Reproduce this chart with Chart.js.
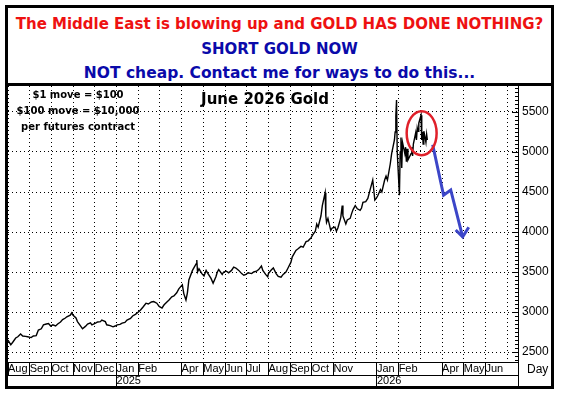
<!DOCTYPE html>
<html>
<head>
<meta charset="utf-8">
<script src="https://cdn.jsdelivr.net/npm/chart.js@4.4.1/dist/chart.umd.min.js"></script>
<style>
  body { margin: 0; background: #fff; }
  #frame { position: absolute; left: 5px; top: 5px; width: 543px; height: 378px; border: 3px solid #000; }
  #head { position: relative; height: 75px; border-bottom: 3px solid #000; font-family: "DejaVu Sans", Verdana, sans-serif; font-weight: bold; }
  #head div { position: absolute; left: 0; width: 100%; text-align: center; line-height: 20px; white-space: nowrap; }
  #wrap { position: relative; width: 543px; height: 300px; }
</style>
</head>
<body>
<div id="frame">
  <div id="head">
    <div style="top:6px; color:#ee1111; font-size:15px;">The Middle East is blowing up and GOLD HAS DONE NOTHING?</div>
    <div style="top:31px; color:#0a0aaa; font-size:15px;">SHORT GOLD NOW</div>
    <div style="top:55px; color:#0a0aaa; font-size:15.5px;">NOT cheap. Contact me for ways to do this...</div>
  </div>
  <div id="wrap"><canvas id="goldChart"></canvas></div>
</div>
<script>
// June 2026 gold futures
var dates = [
  '2024-08-01','2024-08-05','2024-08-08','2024-08-12','2024-08-15','2024-08-19','2024-08-22','2024-08-26','2024-08-29',
  '2024-09-03','2024-09-06','2024-09-10','2024-09-13','2024-09-17','2024-09-20','2024-09-24','2024-09-27','2024-09-30',
  '2024-10-03','2024-10-07','2024-10-10','2024-10-14','2024-10-17','2024-10-21','2024-10-23','2024-10-28','2024-10-30',
  '2024-11-01','2024-11-05','2024-11-07','2024-11-11','2024-11-14','2024-11-18','2024-11-21','2024-11-25','2024-11-27',
  '2024-12-02','2024-12-05','2024-12-09','2024-12-11','2024-12-16','2024-12-18','2024-12-23','2024-12-27','2024-12-30',
  '2025-01-02','2025-01-06','2025-01-09','2025-01-13','2025-01-16','2025-01-21','2025-01-24','2025-01-28','2025-01-31',
  '2025-02-04','2025-02-07','2025-02-11','2025-02-14','2025-02-18','2025-02-21','2025-02-25','2025-02-28',
  '2025-03-04','2025-03-07','2025-03-11','2025-03-14','2025-03-18','2025-03-21','2025-03-25','2025-03-28','2025-03-31',
  '2025-04-02','2025-04-04','2025-04-07','2025-04-09','2025-04-11','2025-04-16','2025-04-21','2025-04-22','2025-04-23','2025-04-25','2025-04-29',
  '2025-05-02','2025-05-05','2025-05-07','2025-05-12','2025-05-15','2025-05-19','2025-05-21','2025-05-23','2025-05-28','2025-05-30',
  '2025-06-03','2025-06-06','2025-06-10','2025-06-13','2025-06-16','2025-06-20','2025-06-24','2025-06-27','2025-06-30',
  '2025-07-03','2025-07-08','2025-07-11','2025-07-15','2025-07-18','2025-07-22','2025-07-24','2025-07-28','2025-07-31',
  '2025-08-01','2025-08-05','2025-08-08','2025-08-12','2025-08-15','2025-08-19','2025-08-22','2025-08-26','2025-08-29',
  '2025-09-02','2025-09-04','2025-09-09','2025-09-12','2025-09-16','2025-09-19','2025-09-23','2025-09-26','2025-09-30',
  '2025-10-02','2025-10-06','2025-10-08','2025-10-10','2025-10-14','2025-10-16','2025-10-20','2025-10-21','2025-10-22','2025-10-24','2025-10-28','2025-10-30',
  '2025-11-03','2025-11-05','2025-11-07','2025-11-11','2025-11-13','2025-11-14','2025-11-18','2025-11-20','2025-11-24','2025-11-26','2025-11-28',
  '2025-12-01','2025-12-04','2025-12-08','2025-12-10','2025-12-12','2025-12-16','2025-12-19','2025-12-22','2025-12-26','2025-12-29','2025-12-31',
  '2026-01-02','2026-01-06','2026-01-08','2026-01-12','2026-01-14','2026-01-16','2026-01-20','2026-01-22','2026-01-26','2026-01-27','2026-01-28','2026-01-29','2026-01-30',
  '2026-02-02','2026-02-03','2026-02-04','2026-02-05','2026-02-06','2026-02-09','2026-02-10','2026-02-11','2026-02-12','2026-02-13',
  '2026-02-17','2026-02-18','2026-02-19','2026-02-20','2026-02-23','2026-02-24','2026-02-25','2026-02-26','2026-02-27',
  '2026-03-02','2026-03-03','2026-03-04','2026-03-05','2026-03-06','2026-03-09','2026-03-10','2026-03-11'
];
var prices = [
  2650,2590,2625,2675,2690,2725,2700,2695,2690,
  2680,2700,2705,2775,2790,2840,2850,2855,2825,
  2840,2825,2850,2875,2905,2925,2940,2960,2990,
  2960,2925,2880,2830,2790,2820,2850,2865,2840,
  2860,2875,2880,2900,2880,2840,2830,2815,2825,
  2840,2845,2860,2870,2900,2920,2950,2970,2990,
  3025,3060,3110,3100,3125,3130,3110,3070,
  3050,3090,3125,3150,3190,3200,3240,3290,3320,
  3340,3230,3150,3240,3400,3520,3600,3650,3500,3540,3480,
  3450,3520,3490,3420,3360,3440,3500,3530,3470,3500,
  3510,3490,3520,3560,3550,3520,3480,3460,3470,
  3490,3480,3500,3510,3530,3575,3520,3470,3440,
  3480,3525,3550,3480,3445,3435,3470,3500,3550,
  3620,3690,3770,3790,3820,3810,3880,3890,3930,
  3960,4010,4100,4060,4200,4330,4490,4200,4120,4170,4020,4050,
  4060,4010,4050,4180,4330,4200,4100,4150,4170,4230,4280,
  4330,4290,4270,4300,4370,4380,4420,4520,4650,4400,4420,
  4450,4530,4500,4650,4700,4650,4850,4980,5150,5250,5450,5650,5000,
  4460,5000,5180,4800,5120,4980,5060,4880,5040,4900,
  4980,5060,4950,5100,5240,5150,5300,5260,5360,
  5460,5150,5250,5100,5260,5120,5220,5150
];

// month axis: 0 = Aug 2024
var monthLabels = ['Aug','Sep','Oct','Nov','Dec','Jan','Feb','','Apr','May','Jun','Jul',
                   'Aug','Sep','Oct','Nov','','Jan','Feb','','Apr','May','Jun',''];
var yearTicks = [5, 17];
var yearLabels = ['2025', '2026'];
var priceTicks = [2500, 3000, 3500, 4000, 4500, 5000, 5500];

// drawn forecast arrow (month index, price)
var arrowMonths = [19.57, 20.07, 20.40, 20.95];
var arrowPrices = [5090, 4460, 4525, 3940];
var headMonths = [20.63, 20.95, 21.23];
var headPrices = [4025, 3940, 4060];

// red ring round the latest prices
var ringMonths = [18.37, 19.75];
var ringPrices = [4960, 5510];

function monthPos(d) {
    var p = d.split('-').map(Number);
    var dim = new Date(p[0], p[1], 0).getDate();
    return (p[0] - 2024) * 12 + (p[1] - 8) + (p[2] - 1) / dim;
}

var blue = '#3c46c8';

var overlay = {
    id: 'overlay',
    afterDatasetsDraw: function (chart) {
        var ctx = chart.ctx, x = chart.scales.x, y = chart.scales.y;
        ctx.save();
        // ring
        var x0 = x.getPixelForValue(ringMonths[0]), x1 = x.getPixelForValue(ringMonths[1]);
        var y0 = y.getPixelForValue(ringPrices[1]), y1 = y.getPixelForValue(ringPrices[0]);
        ctx.beginPath();
        ctx.ellipse((x0 + x1) / 2, (y0 + y1) / 2, (x1 - x0) / 2, (y1 - y0) / 2, 0, 0, Math.PI * 2);
        ctx.strokeStyle = '#e0202a';
        ctx.lineWidth = 2.5;
        ctx.stroke();
        // notes
        ctx.fillStyle = '#000';
        ctx.textAlign = 'center';
        ctx.textBaseline = 'middle';
        ctx.font = 'bold 15px "DejaVu Sans"';
        ctx.fillText('June 2026 Gold', 257, 14);
        ctx.font = 'bold 10px "DejaVu Sans"';
        ctx.fillText('$1 move = $100', 70, 9);
        ctx.fillText('$100 move = $10,000', 70, 25);
        ctx.fillText('per futures contract', 70, 41);
        ctx.restore();
    },
    afterDraw: function (chart) {
        var ctx = chart.ctx, a = chart.chartArea, y = chart.scales.y, x2 = chart.scales.x2;
        ctx.save();
        ctx.strokeStyle = '#000';
        ctx.lineWidth = 1;
        ctx.beginPath();
        ctx.moveTo(0, a.bottom + 0.5); ctx.lineTo(a.right, a.bottom + 0.5);
        ctx.moveTo(0, x2.top + 0.5); ctx.lineTo(a.right, x2.top + 0.5);
        ctx.moveTo(a.right + 0.5, 0); ctx.lineTo(a.right + 0.5, chart.height);
        // minor ticks on the price axis
        for (var v = 2400; v <= 5800; v += 50) {
            var py = Math.round(y.getPixelForValue(v)) + 0.5;
            var len = v % 500 === 0 ? 6 : 3;
            ctx.moveTo(a.right - len, py); ctx.lineTo(a.right, py);
        }
        ctx.stroke();
        ctx.fillStyle = '#000';
        ctx.font = '12px "Liberation Sans", Arial';
        ctx.textBaseline = 'middle';
        ctx.fillText('Day', a.right + 9, a.bottom + 8);
        ctx.restore();
    }
};

var axisFont = { family: '"Liberation Sans", Arial, sans-serif', size: 11 };

var goldChart = new Chart(document.getElementById('goldChart'), {
    type: 'line',
    data: {
        datasets: [
            {
                data: dates.map(function (d, i) { return { x: monthPos(d), y: prices[i] }; }),
                borderColor: '#000',
                borderWidth: 1.4,
                pointRadius: 0,
                tension: 0
            },
            {
                data: arrowMonths.map(function (m, i) { return { x: m, y: arrowPrices[i] }; }),
                borderColor: blue,
                borderWidth: 3,
                pointRadius: 0
            },
            {
                data: headMonths.map(function (m, i) { return { x: m, y: headPrices[i] }; }),
                borderColor: blue,
                borderWidth: 3,
                pointRadius: 0
            }
        ]
    },
    options: {
        responsive: true,
        maintainAspectRatio: false,
        animation: false,
        layout: { padding: 0 },
        plugins: { legend: { display: false }, tooltip: { enabled: false } },
        scales: {
            x: {
                type: 'linear', position: 'bottom', weight: 0,
                min: 0, max: 23.5,
                afterBuildTicks: function (s) { s.ticks = monthLabels.map(function (l, i) { return { value: i }; }); },
                afterFit: function (s) { s.height = 13; },
                ticks: {
                    autoSkip: false, maxRotation: 0, align: 'start', padding: -13,
                    color: '#000', font: axisFont,
                    callback: function (v) { return monthLabels[v]; }
                },
                grid: {
                    color: '#000', lineWidth: 1, tickLength: 13,
                    tickColor: function (c) { return monthLabels[c.tick.value] ? '#000' : 'rgba(0,0,0,0)'; }
                },
                border: { display: false, dash: [1, 3] }
            },
            x2: {
                type: 'linear', position: 'bottom', weight: 1,
                min: 0, max: 23.5,
                afterBuildTicks: function (s) { s.ticks = yearTicks.map(function (v) { return { value: v }; }); },
                afterFit: function (s) { s.height = 11; },
                ticks: {
                    autoSkip: false, maxRotation: 0, align: 'start', padding: -12,
                    color: '#000', font: axisFont,
                    callback: function (v) { return yearLabels[yearTicks.indexOf(v)]; }
                },
                grid: { drawOnChartArea: false, tickLength: 11, tickColor: '#000' },
                border: { display: false }
            },
            y: {
                type: 'linear', position: 'right',
                min: 2375, max: 5825,
                afterBuildTicks: function (s) { s.ticks = priceTicks.map(function (v) { return { value: v }; }); },
                afterFit: function (s) { s.width = 33; s.paddingTop = 0; s.paddingBottom = 0; },
                ticks: {
                    padding: 4,
                    color: '#000', font: { family: '"Liberation Sans", Arial, sans-serif', size: 12 },
                    callback: function (v) { return String(v); }
                },
                grid: { color: '#000', lineWidth: 1, drawTicks: false },
                border: { display: false, dash: [1, 3] }
            }
        }
    },
    plugins: [overlay]
});
</script>
</body>
</html>
